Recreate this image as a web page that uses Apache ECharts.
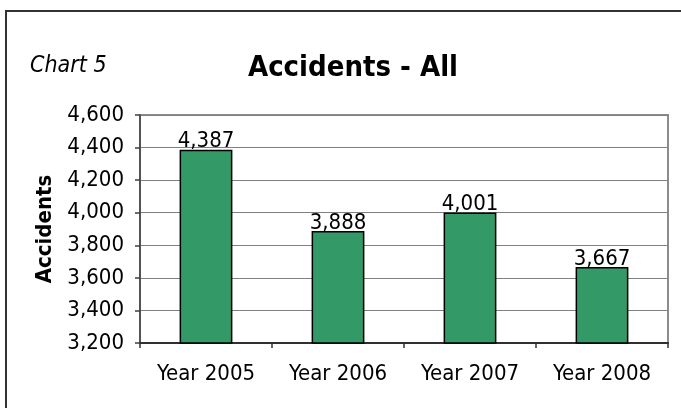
<!DOCTYPE html>
<html>
<head>
<meta charset="utf-8">
<script src="https://cdn.jsdelivr.net/npm/echarts@6/dist/echarts.min.js"></script>
<style>
  html, body { margin: 0; padding: 0; background: #fff; }
  #chart { width: 681px; height: 408px; }
</style>
</head>
<body>
<div id="chart"></div>
<script>
// Annual accident totals
const categories = ['Year 2005', 'Year 2006', 'Year 2007', 'Year 2008'];
const accidents = [4387, 3888, 4001, 3667];
const yTicks = { min: 3200, max: 4600, step: 200 };

const FONT = "'DejaVu Sans Condensed', 'DejaVu Sans', sans-serif";
const fmt = v => v.toLocaleString('en-US');

const chart = echarts.init(document.getElementById('chart'), null, { renderer: 'canvas' });

chart.setOption({
  animation: false,
  backgroundColor: '#fff',
  graphic: [
    // frame around the whole chart
    { type: 'rect', shape: { x: 6, y: 11, width: 690, height: 410 },
      style: { fill: 'none', stroke: '#333', lineWidth: 2 }, z: 10 },
    { type: 'text', left: 30, top: 55,
      style: { text: 'Chart 5', font: "italic 23px " + FONT, fill: '#000' } }
  ],
  title: {
    text: 'Accidents - All',
    left: 348, top: 49, textAlign: 'center',
    textStyle: { fontFamily: FONT, fontWeight: 'bold', fontSize: 29, color: '#000' }
  },
  grid: {
    left: 140, right: 13, top: 115, bottom: 65,
    show: true, borderColor: '#8c8c8c', borderWidth: 2, backgroundColor: '#fff'
  },
  xAxis: {
    type: 'category',
    data: categories,
    axisLine: { lineStyle: { color: '#303030', width: 2 } },
    axisTick: { show: true, length: 5, lineStyle: { color: '#303030', width: 1.5 } },
    axisLabel: { margin: 20, fontFamily: FONT, fontSize: 22, color: '#000' }
  },
  yAxis: {
    type: 'value',
    min: yTicks.min, max: yTicks.max, interval: yTicks.step,
    name: 'Accidents',
    nameLocation: 'middle',
    nameRotate: 90,
    nameGap: 83,
    nameTextStyle: { fontFamily: FONT, fontWeight: 'bold', fontSize: 22, color: '#000' },
    axisLine: { show: true, lineStyle: { color: '#404040', width: 1.5 } },
    axisTick: { show: true, length: 5, lineStyle: { color: '#404040', width: 1.5 } },
    axisLabel: { margin: 16, fontFamily: FONT, fontSize: 22, color: '#000', formatter: fmt },
    splitLine: { lineStyle: { color: '#808080', width: 1 } }
  },
  series: [{
    type: 'bar',
    data: accidents,
    barWidth: '40%',
    itemStyle: { color: '#339966', borderColor: '#000', borderWidth: 1.5 },
    label: {
      show: true, position: 'top', distance: -3,
      fontFamily: FONT, fontSize: 22, color: '#000',
      formatter: p => fmt(p.value)
    }
  }]
});
</script>
</body>
</html>
